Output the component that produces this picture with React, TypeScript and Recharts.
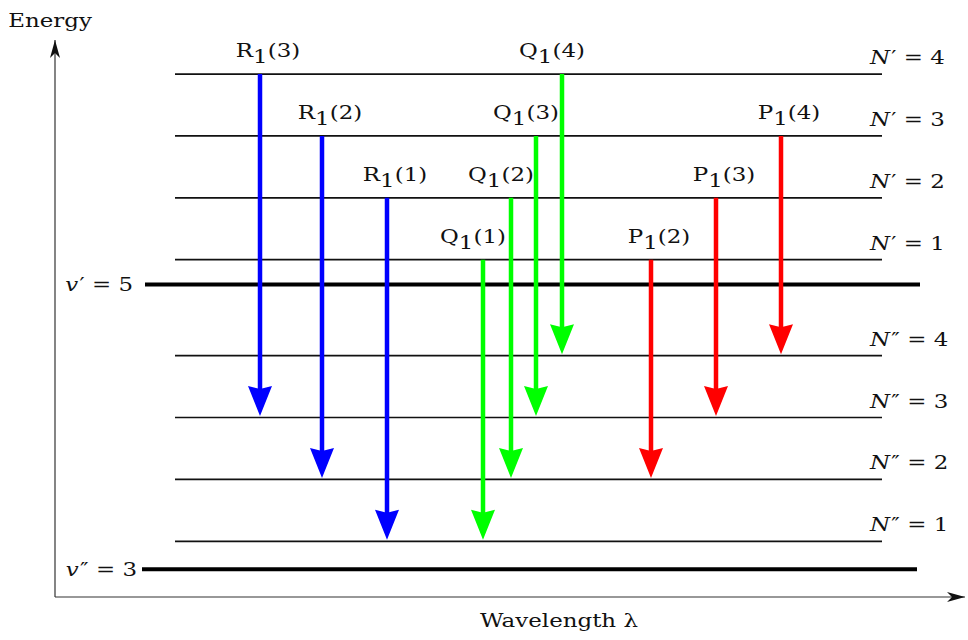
import { ComposedChart, XAxis, YAxis, ReferenceLine } from 'recharts'
import type { ReactNode } from 'react'

// rotational levels N = 1..4 (energy in arbitrary units)
const rotN = [1, 2, 3, 4]
const upperRotEnergy = [5.45, 6.45, 7.45, 8.45]
const lowerRotEnergy = [0.9, 1.9, 2.9, 3.9]

// vibrational levels v' and v''
const vibQuantum = [5, 3]
const vibEnergy = [5.05, 0.45]

// branch lines: lower-state N'' and wavelength position
const rBranchJ = [3, 2, 1]
const rBranchX = [20.5, 26.7, 33.2]
const qBranchJ = [1, 2, 3, 4]
const qBranchX = [42.8, 45.6, 48.1, 50.7]
const pBranchJ = [2, 3, 4]
const pBranchX = [59.6, 66.1, 72.6]

const W = 968
const H = 640
const FONT = '"DejaVu Serif", serif'
const FS = 18.5
// glyphs are drawn wide, so text is stretched horizontally
const SX = 1.24

const X_DOMAIN: [number, number] = [0, 91]
const Y_DOMAIN: [number, number] = [0, 9]
const ROT_SPAN: [number, number] = [12, 82.7]
const VIB_SPAN: [number, number][] = [
  [9, 86.5],
  [8.7, 86.2],
]

type Branch = { name: string; color: string; upperOffset: number; labelDx: number; js: number[]; xs: number[] }

const branches: Branch[] = [
  { name: 'R', color: '#0000ff', upperOffset: 1, labelDx: 8, js: rBranchJ, xs: rBranchX },
  { name: 'Q', color: '#00ff00', upperOffset: 0, labelDx: -10, js: qBranchJ, xs: qBranchX },
  { name: 'P', color: '#ff0000', upperOffset: -1, labelDx: 8, js: pBranchJ, xs: pBranchX },
]

const energyOf = (levels: number[], n: number) => levels[rotN.indexOf(n)]

function WideText({ x, y, anchor = 'start', size = FS, children }: { x: number; y: number; anchor?: string; size?: number; children: ReactNode }) {
  return (
    <text
      transform={`translate(${x},${y}) scale(${SX},1)`}
      textAnchor={anchor as any}
      fontFamily={FONT}
      fontSize={size}
      fill="#111"
    >
      {children}
    </text>
  )
}

// polygon for a notched arrow head pointing from (x1,y1) to (x2,y2)
function headPoints(x1: number, y1: number, x2: number, y2: number, len: number, width: number, notch: number) {
  const d = Math.hypot(x2 - x1, y2 - y1) || 1
  const ux = (x2 - x1) / d
  const uy = (y2 - y1) / d
  const bx = x2 - ux * len
  const by = y2 - uy * len
  const nx = -uy * (width / 2)
  const ny = ux * (width / 2)
  return [
    `${x2},${y2}`,
    `${bx + nx},${by + ny}`,
    `${bx + ux * notch},${by + uy * notch}`,
    `${bx - nx},${by - ny}`,
  ].join(' ')
}

function transitionShape(color: string, name: string, j: number, labelDx: number) {
  return (p: any) => {
    const { x1, y1, x2, y2 } = p
    const tipY = y2 - 1.5
    const len = 30
    return (
      <g>
        <line x1={x1} y1={y1} x2={x2} y2={tipY - len + 4} stroke={color} strokeWidth={4.5} />
        <polygon points={headPoints(x1, y1, x2, tipY, len, 24, 3)} fill={color} />
        <WideText x={x1 + labelDx} y={y1 - 17} anchor="middle">
          <tspan>{name}</tspan>
          <tspan dy={6}>1</tspan>
          <tspan dy={-6}>({j})</tspan>
        </WideText>
      </g>
    )
  }
}

function rotLevelShape(prime: string, n: number) {
  return (p: any) => {
    const { x1, y1, x2 } = p
    return (
      <g>
        <line x1={x1} y1={y1} x2={x2} y2={y1} stroke="#111" strokeWidth={1.7} />
        <WideText x={x2 - 12} y={y1 - 10}>
          <tspan fontStyle="italic">N</tspan>
          <tspan dx={1}>{prime}</tspan>
          <tspan> = {n}</tspan>
        </WideText>
      </g>
    )
  }
}

function vibLevelShape(prime: string, v: number, gap: number) {
  return (p: any) => {
    const { x1, y1, x2 } = p
    return (
      <g>
        <line x1={x1} y1={y1} x2={x2} y2={y1} stroke="#000" strokeWidth={4} />
        <WideText x={x1 - gap} y={y1 + 7} anchor="end">
          <tspan fontStyle="italic">v</tspan>
          <tspan dx={1}>{prime}</tspan>
          <tspan> = {v}</tspan>
        </WideText>
      </g>
    )
  }
}

function axisShape(title: string, dx: number, dy: number) {
  return (p: any) => {
    const { x1, y1, x2, y2 } = p
    return (
      <g>
        <line x1={x1} y1={y1} x2={x2} y2={y2} stroke="#333" strokeWidth={1.2} />
        <polygon points={headPoints(x1, y1, x2, y2, 18, 10, 5)} fill="#111" />
        <WideText x={x2 + dx} y={y2 + dy} anchor="middle">
          {title}
        </WideText>
      </g>
    )
  }
}

export default function App() {
  return (
    <div style={{ position: 'absolute', left: 0, top: 0, width: W, height: H, background: '#fff' }}>
      <ComposedChart width={W} height={H} data={[]} margin={{ top: 40, right: 3, bottom: 43, left: 55 }}>
        <XAxis type="number" dataKey="x" domain={X_DOMAIN} allowDataOverflow hide />
        <YAxis type="number" dataKey="e" domain={Y_DOMAIN} allowDataOverflow hide />

        {/* energy and wavelength axes */}
        <ReferenceLine
          segment={[{ x: X_DOMAIN[0], y: Y_DOMAIN[0] }, { x: X_DOMAIN[0], y: Y_DOMAIN[1] }]}
          shape={axisShape('Energy', -5, -13)}
        />
        <ReferenceLine
          segment={[{ x: X_DOMAIN[0], y: Y_DOMAIN[0] }, { x: X_DOMAIN[1], y: Y_DOMAIN[0] }]}
          shape={axisShape('Wavelength λ', -406, 30)}
        />

        {/* vibrational levels */}
        {vibEnergy.map((e, i) => (
          <ReferenceLine
            key={`vib-${i}`}
            segment={[{ x: VIB_SPAN[i][0], y: e }, { x: VIB_SPAN[i][1], y: e }]}
            shape={vibLevelShape(i === 0 ? '′' : '″', vibQuantum[i], i === 0 ? 12 : 5)}
          />
        ))}

        {/* rotational levels */}
        {upperRotEnergy.map((e, i) => (
          <ReferenceLine
            key={`up-${i}`}
            segment={[{ x: ROT_SPAN[0], y: e }, { x: ROT_SPAN[1], y: e }]}
            shape={rotLevelShape('′', rotN[i])}
          />
        ))}
        {lowerRotEnergy.map((e, i) => (
          <ReferenceLine
            key={`low-${i}`}
            segment={[{ x: ROT_SPAN[0], y: e }, { x: ROT_SPAN[1], y: e }]}
            shape={rotLevelShape('″', rotN[i])}
          />
        ))}

        {/* R, Q and P branch transitions */}
        {branches.flatMap((b) =>
          b.js.map((j, i) => (
            <ReferenceLine
              key={`${b.name}-${j}`}
              segment={[
                { x: b.xs[i], y: energyOf(upperRotEnergy, j + b.upperOffset) },
                { x: b.xs[i], y: energyOf(lowerRotEnergy, j) },
              ]}
              shape={transitionShape(b.color, b.name, j, b.labelDx)}
            />
          ))
        )}
      </ComposedChart>
    </div>
  )
}
